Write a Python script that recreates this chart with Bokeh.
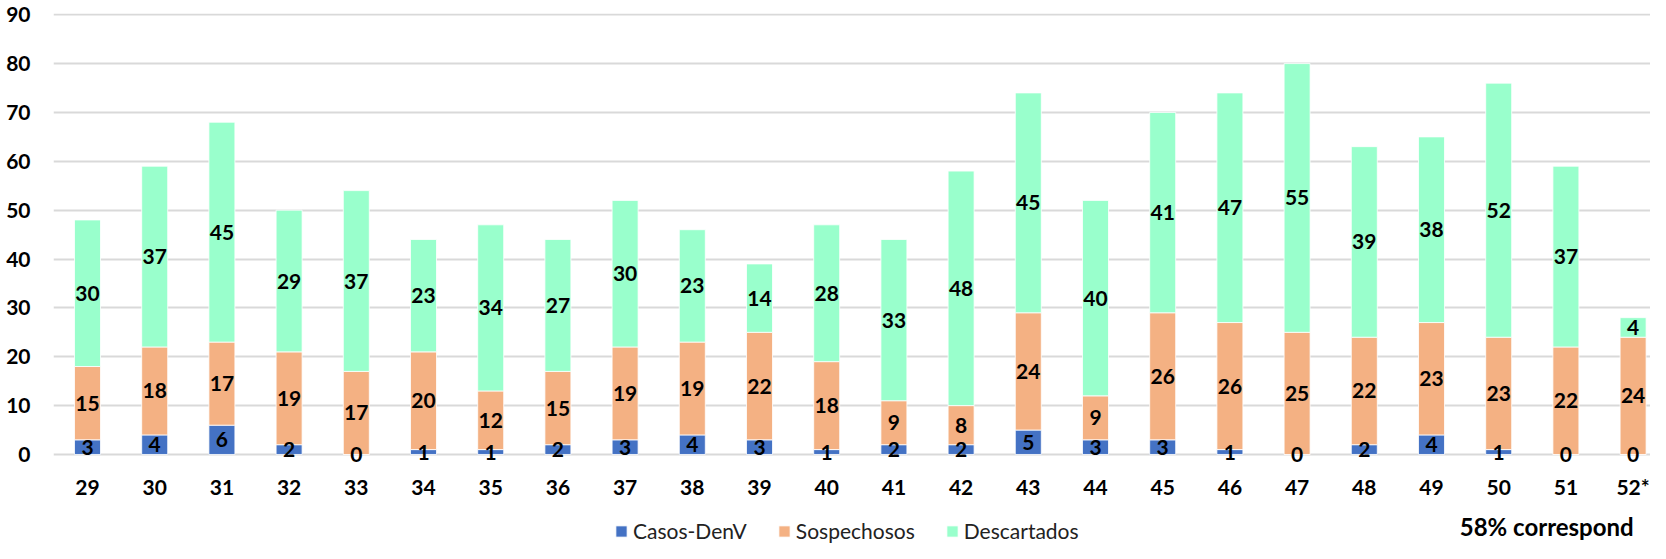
from bokeh.plotting import figure
from bokeh.models import ColumnDataSource, Range1d, FixedTicker, Legend, LegendItem, Label
from bokeh.core.properties import value
from bokeh.embed import file_html
from bokeh.resources import INLINE

weeks = ["29", "30", "31", "32", "33", "34", "35", "36", "37", "38", "39", "40",
         "41", "42", "43", "44", "45", "46", "47", "48", "49", "50", "51", "52*"]
casos = [3, 4, 6, 2, 0, 1, 1, 2, 3, 4, 3, 1, 2, 2, 5, 3, 3, 1, 0, 2, 4, 1, 0, 0]
sosp = [15, 18, 17, 19, 17, 20, 12, 15, 19, 19, 22, 18, 9, 8, 24, 9, 26, 26, 25, 22, 23, 23, 22, 24]
desc = [30, 37, 45, 29, 37, 23, 34, 27, 30, 23, 14, 28, 33, 48, 45, 40, 41, 47, 55, 39, 38, 52, 37, 4]
series_names = ["Casos-DenV", "Sospechosos", "Descartados"]
colors = ["#4472C4", "#F4B183", "#99FFCC"]
y_ticks = [0, 10, 20, 30, 40, 50, 60, 70, 80, 90]
note_text = "58% correspond"

idx = list(range(len(weeks)))
src = ColumnDataSource(dict(x=idx, casos=casos, sosp=sosp, desc=desc))

p = figure(output_backend="svg", toolbar_location=None,
           frame_width=1597, frame_height=530,
           x_range=Range1d(-0.506, 23.259), y_range=Range1d(-18.22, 90.25),
           min_border_left=53, min_border_right=0, min_border_top=13, min_border_bottom=0)
p.outline_line_color = None
p.background_fill_color = "white"

rs = p.vbar_stack(["casos", "sosp", "desc"], x="x", width=0.387, source=src,
                  fill_color=colors, line_color="white", line_width=0.8)

# data labels
lx, ly, lt = [], [], []
for i in idx:
    c, s, d = casos[i], sosp[i], desc[i]
    lx += [i, i, i]
    ly += [c / 2, c + s / 2, c + s + d / 2]
    lt += [str(c), str(s), str(d)]
lab = ColumnDataSource(dict(x=lx, y=ly, t=lt))
p.text(x="x", y="y", text="t", source=lab, text_align="center", text_baseline="middle",
       text_font=value("Lato"), text_font_style="bold", text_font_size="21px",
       text_color="black")

# axes
p.xaxis.ticker = FixedTicker(ticks=idx)
p.xaxis.major_label_overrides = {i: w for i, w in zip(idx, weeks)}
p.xaxis.fixed_location = 0
p.yaxis.ticker = FixedTicker(ticks=y_ticks)
for ax in (p.xaxis, p.yaxis):
    ax.axis_line_color = None
    ax.major_tick_line_color = None
    ax.minor_tick_line_color = None
    ax.major_tick_in = 0
    ax.major_tick_out = 0
    ax.major_label_text_font = "Lato"
    ax.major_label_text_font_style = "bold"
    ax.major_label_text_font_size = "21px"
    ax.major_label_text_color = "black"
p.xaxis.major_label_standoff = 20
p.yaxis.major_label_standoff = 23

p.xgrid.grid_line_color = None
p.ygrid.ticker = FixedTicker(ticks=y_ticks)
p.ygrid.grid_line_color = "#d9d9d9"
p.ygrid.grid_line_width = 2

legend = Legend(items=[LegendItem(label=n, renderers=[r]) for n, r in zip(series_names, rs)],
                orientation="horizontal", location=(561, 0),
                glyph_width=14, glyph_height=14, label_standoff=5, spacing=30,
                padding=0, margin=0, border_line_color=None, background_fill_alpha=0,
                label_text_font="Lato", label_text_font_size="21px", label_text_color="#222222")
p.add_layout(legend)

p.add_layout(Label(x=20.42, y=-11.87, text=note_text, text_font="Lato", text_font_style="bold",
                   text_font_size="24px", text_baseline="top", text_align="left",
                   text_color="black"))

open("out.html", "w").write(file_html(p, INLINE))
